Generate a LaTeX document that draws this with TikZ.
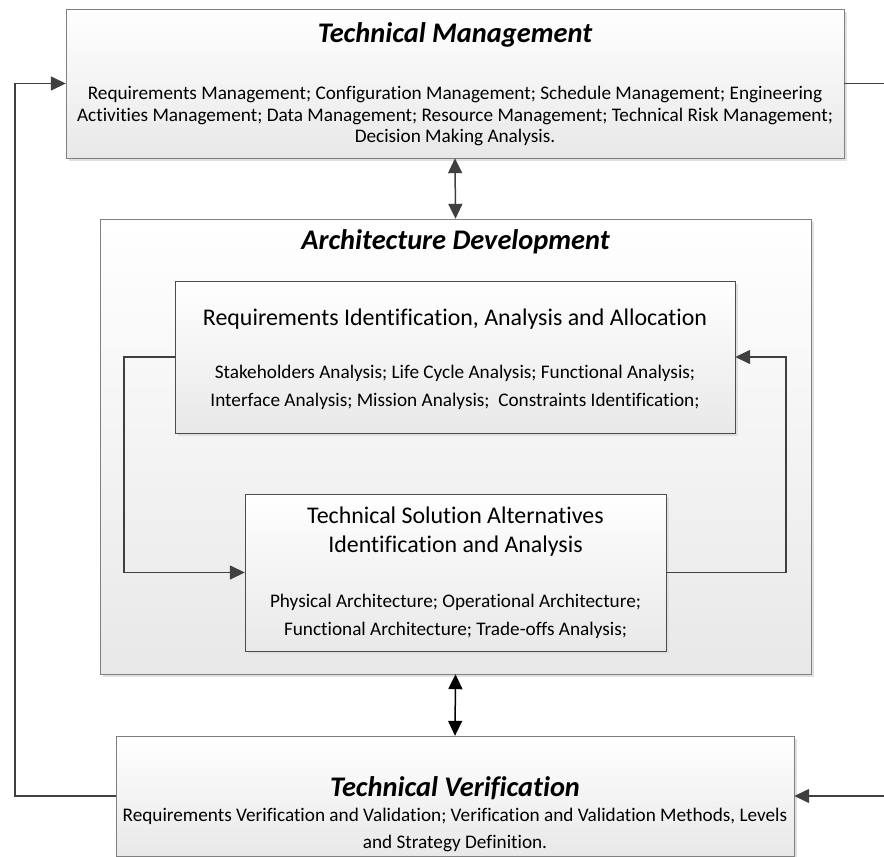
\documentclass[tikz,border=0pt]{standalone}
\usepackage{fontspec}
\setmainfont{Carlito}[Ligatures=NoCommon]
\usetikzlibrary{arrows.meta,shadows}

\tikzset{
  box/.style={draw=black!50, top color=white, bottom color=black!9, inner sep=0pt,
    drop shadow={shadow xshift=3bp, shadow yshift=-3bp, fill=black!12, opacity=1}},
  inbox/.style={box, draw=black!70},
  head/.style={font=\fontsize{28.5}{32}\selectfont\bfseries\itshape},
  sub/.style={font=\fontsize{24}{29}\selectfont, align=center},
  body/.style={font=\fontsize{19.3}{22}\selectfont, align=center},
  link/.style={draw=black!75, line width=1.5bp},
}

\begin{document}
\begin{tikzpicture}[x=1bp, y=-1bp, >={Triangle[length=15bp,width=14bp]}]
  \useasboundingbox (0,0) rectangle (884,857);
  \clip (0,0) rectangle (884,857);

  % boxes
  \node[box, minimum width=778bp, minimum height=149bp] (tm) at (455,83.5) {};
  \node[box, minimum width=711bp, minimum height=455bp] (ad) at (455.5,446.5) {};
  \node[inbox, minimum width=560bp, minimum height=152bp] (riaa) at (455,357) {};
  \node[inbox, minimum width=421bp, minimum height=157bp] (tsa) at (455.5,572.5) {};
  \node[box, minimum width=678bp, minimum height=120bp] (tv) at (455,796) {};

  % texts
  \node[head] (tmhead) at (455,35) {Technical Management};
  \node[body] (tmbody) at (455,116) {Requirements Management; Configuration Management; Schedule Management; Engineering\\
    Activities Management; Data Management; Resource Management; Technical Risk Management;\\
    Decision Making Analysis.};
  \node[head] (adhead) at (455.5,242) {Architecture Development};
  \node[sub] (riaahead) at (455,319) {Requirements Identification, Analysis and Allocation};
  \node[body, font=\fontsize{19.3}{28}\selectfont] (riaabody) at (455,387) {Stakeholders Analysis; Life Cycle Analysis; Functional Analysis;\\
    Interface Analysis; Mission Analysis;\ \ Constraints Identification;};
  \node[sub] (tsahead) at (455.5,532) {Technical Solution Alternatives\\ Identification and Analysis};
  \node[body, font=\fontsize{19.3}{28}\selectfont] (tsabody) at (455.5,616) {Physical Architecture; Operational Architecture;\\
    Functional Architecture; Trade-offs Analysis;};
  \node[head] (tvhead) at (455,788) {Technical Verification};
  \node[body, font=\fontsize{19.3}{28}\selectfont] (tvbody) at (455,830) {Requirements Verification and Validation; Verification and Validation Methods, Levels\\
    and Strategy Definition.};

  % connectors
  \draw[link,<->] (tm.south) -- (ad.north);
  \draw[link,<->,draw=black] (ad.south) -- (tv.north);
  \draw[link,->] (riaa.west) -- ++(-51,0) |- (tsa.west);
  \draw[link,->] (tsa.east) -- ++(120,0) |- (riaa.east);
  \draw[link,->] (tv.west) -- ++(-101,0) |- (tm.west);
  \draw[link,->] (tm.east) -- ++(60,0) |- (tv.east);
\end{tikzpicture}
\end{document}
